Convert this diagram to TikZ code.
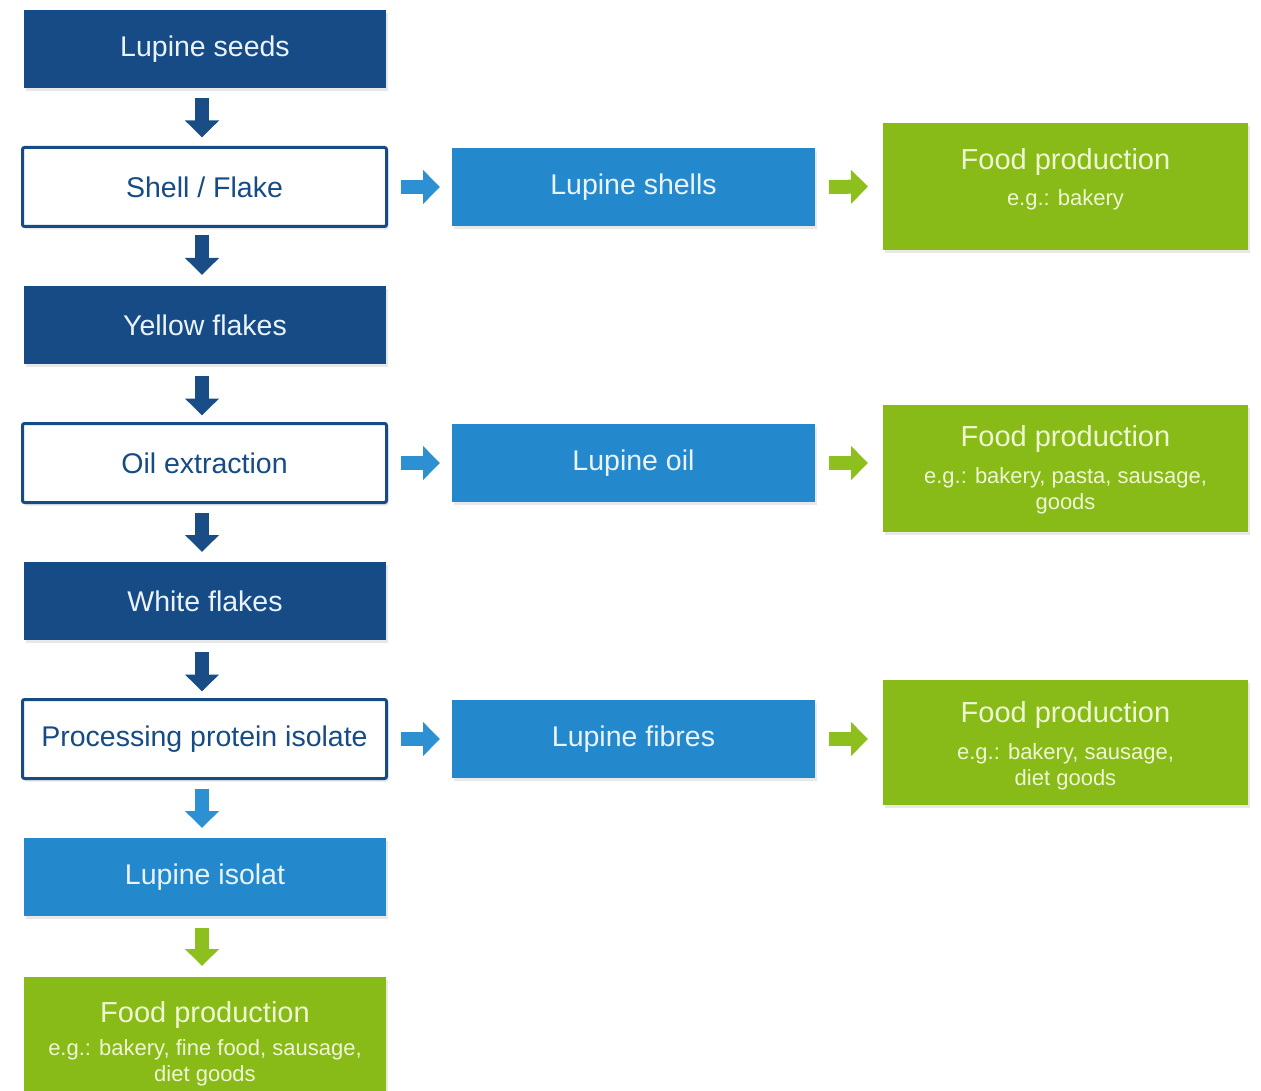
\documentclass[tikz,border=0pt]{standalone}
\usepackage{fontspec}
\setmainfont{Liberation Sans}
\usetikzlibrary{arrows.meta,shadows}
\definecolor{navy}{HTML}{164B85}
\definecolor{midblue}{HTML}{2389CC}
\definecolor{leaf}{HTML}{88BA18}
\definecolor{lighttxt}{HTML}{EAF3FB}
\definecolor{greentxt}{HTML}{EEF7D2}
\definecolor{arrblue}{HTML}{2C90D2}
\definecolor{arrgreen}{HTML}{8DC01E}
\definecolor{arrnavy}{HTML}{1A4C85}
\begin{document}
\begin{tikzpicture}[x=1pt,y=-1pt,
  box/.style={rectangle, inner sep=0pt, outer sep=0pt, minimum width=362pt, minimum height=78pt,
    font=\fontsize{28.5}{32}\selectfont,
    drop shadow={shadow xshift=2pt,shadow yshift=-3pt,opacity=0.18,fill=gray}},
  darkbox/.style={box, fill=navy, text=lighttxt},
  openbox/.style={box, fill=white, draw=navy, line width=3pt, text=navy, minimum width=364pt, minimum height=79pt, rounded corners=2pt},
  bluebox/.style={box, fill=midblue, text=lighttxt},
  greenbox/.style={box, fill=leaf, minimum width=365pt},
  gtitle/.style={anchor=base, text=greentxt, font=\fontsize{29}{32}\selectfont, inner sep=0pt},
  gsub/.style={anchor=north, text=greentxt, align=center, font=\fontsize{22}{26}\selectfont, inner sep=0pt},
  varrow/.style={line width=14pt, -{Triangle[width=33pt,length=17pt]}},
  navyarrow/.style={varrow, draw=arrnavy},
  bluearrow/.style={varrow, draw=arrblue},
  greenarrow/.style={varrow, draw=arrgreen}
]
\useasboundingbox (0,0) rectangle (1261,1091);
\clip (0,0) rectangle (1261,1091);
\fill[white] (0,0) rectangle (1261,1091);

% left column
\node[darkbox] (seeds) at (205,49) {Lupine seeds};
\node[openbox] (shell) at (204.5,187) {Shell / Flake};
\node[darkbox] (yellow) at (205,325) {Yellow flakes};
\node[openbox] (oil) at (204.5,463) {Oil extraction};
\node[darkbox] (white) at (205,601) {White flakes};
\node[openbox] (proc) at (204.5,739) {Processing protein isolate};
\node[bluebox] (isolat) at (205,877) {Lupine isolat};
\node[greenbox, minimum width=362pt, minimum height=130pt] (f4) at (205,1042) {};

% middle column
\node[bluebox, minimum width=363pt] (shells) at (633.5,187) {Lupine shells};
\node[bluebox, minimum width=363pt] (loil) at (633.5,463) {Lupine oil};
\node[bluebox, minimum width=363pt] (fibres) at (633.5,739) {Lupine fibres};

% right column
\node[greenbox, minimum height=127pt] (f1) at (1065.5,186.5) {};
\node[greenbox, minimum height=127pt] (f2) at (1065.5,468.5) {};
\node[greenbox, minimum height=125pt] (f3) at (1065.5,742.5) {};

% green box texts
\node[gtitle] (t1) at ([yshift=-47pt]f1.north) {Food production};
\node[gsub] (s1) at ([yshift=-66pt]f1.north) {e.g.: bakery};
\node[gtitle] (t2) at ([yshift=-41pt]f2.north) {Food production};
\node[gsub] (s2) at ([yshift=-62pt]f2.north) {e.g.: bakery, pasta, sausage,\\goods};
\node[gtitle] (t3) at ([yshift=-42pt]f3.north) {Food production};
\node[gsub] (s3) at ([yshift=-63pt]f3.north) {e.g.: bakery, sausage,\\diet goods};
\node[gtitle] (t4) at ([yshift=-45pt]f4.north) {Food production};
\node[gsub] (s4) at ([yshift=-62pt]f4.north) {e.g.: bakery, fine food, sausage,\\diet goods};

% vertical arrows
\draw[navyarrow] ([xshift=-3pt,yshift=-10pt]seeds.south) -- ([xshift=-2.5pt,yshift=10pt]shell.north);
\draw[navyarrow] ([xshift=-2.5pt,yshift=-9pt]shell.south) -- ([xshift=-3pt,yshift=11pt]yellow.north);
\draw[navyarrow] ([xshift=-3pt,yshift=-12pt]yellow.south) -- ([xshift=-2.5pt,yshift=8pt]oil.north);
\draw[navyarrow] ([xshift=-2.5pt,yshift=-10pt]oil.south) -- ([xshift=-3pt,yshift=10pt]white.north);
\draw[navyarrow] ([xshift=-3pt,yshift=-12pt]white.south) -- ([xshift=-2.5pt,yshift=8pt]proc.north);
\draw[bluearrow] ([xshift=-2.5pt,yshift=-10pt]proc.south) -- ([xshift=-3pt,yshift=10pt]isolat.north);
\draw[greenarrow] ([xshift=-3pt,yshift=-12pt]isolat.south) -- ([xshift=-3pt,yshift=11pt]f4.north);

% horizontal arrows
\draw[bluearrow] ([xshift=14pt]shell.east) -- ([xshift=-12pt]shells.west);
\draw[bluearrow] ([xshift=14pt]oil.east) -- ([xshift=-12pt]loil.west);
\draw[bluearrow] ([xshift=14pt]proc.east) -- ([xshift=-12pt]fibres.west);
\draw[greenarrow] ([xshift=14pt]shells.east) -- ([xshift=-15pt]f1.west);
\draw[greenarrow] ([xshift=14pt]loil.east) -- ([xshift=-15pt]f2.west|-loil.east);
\draw[greenarrow] ([xshift=14pt]fibres.east) -- ([xshift=-15pt]f3.west|-fibres.east);
\end{tikzpicture}
\end{document}
